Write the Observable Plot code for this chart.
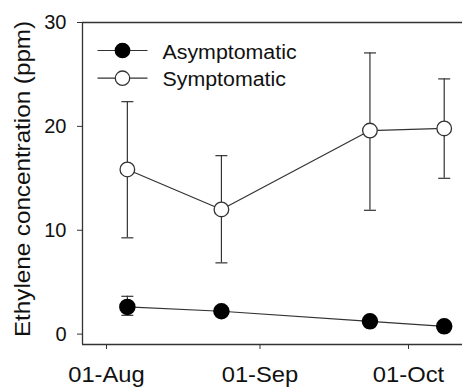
<!DOCTYPE html>
<html>
<head>
<meta charset="utf-8">
<script src="https://cdn.jsdelivr.net/npm/d3@7"></script>
<script src="https://cdn.jsdelivr.net/npm/@observablehq/plot@0.6"></script>
<style>
  html, body { margin: 0; padding: 0; background: #fff; }
</style>
</head>
<body>
<div id="chart"></div>
<script>
// ---- data ----
const dates = ["2010-08-04", "2010-08-23", "2010-09-22", "2010-10-07"];
const symptomatic = [15.85, 12.0, 19.6, 19.8];
const symptomaticLow = [9.27, 6.86, 11.92, 15.0];
const symptomaticHigh = [22.38, 17.18, 27.07, 24.57];
const asymptomatic = [2.62, 2.2, 1.23, 0.75];
const asymptomaticLow = [1.81, 2.0, 1.1, 0.62];
const asymptomaticHigh = [3.64, 2.4, 1.36, 0.88];
const seriesNames = ["Asymptomatic", "Symptomatic"];
const yTicks = [0, 10, 20, 30];
const xTicks = ["2010-08-01", "2010-09-01", "2010-10-01"];
const yTitle = "Ethylene concentration (ppm)";
const xDomain = ["2010-07-25T22:34Z", "2010-10-10T16:40Z"];
const yDomain = [-1, 30];

const toRows = (vals, lo, hi, name) =>
  dates.map((d, i) => ({date: new Date(d), value: vals[i], low: lo[i], high: hi[i], series: name}));
const asym = toRows(asymptomatic, asymptomaticLow, asymptomaticHigh, seriesNames[0]);
const sym = toRows(symptomatic, symptomaticLow, symptomaticHigh, seriesNames[1]);

const ink = "#333";
const hline = w => ({draw(ctx) { ctx.moveTo(-w / 2, 0); ctx.lineTo(w / 2, 0); }});
const fmtX = d3.utcFormat("%d-%b");

const errorMarks = rows => [
  Plot.ruleX(rows, {x: "date", y1: "low", y2: "high", stroke: ink, strokeWidth: 1.2}),
  Plot.dot(rows, {x: "date", y: "high", symbol: hline(12), stroke: ink, fill: "none", strokeWidth: 1.2}),
  Plot.dot(rows, {x: "date", y: "low", symbol: hline(12), stroke: ink, fill: "none", strokeWidth: 1.2})
];

const legendStyles = [
  {fill: "#000", stroke: "#000"},
  {fill: "#fff", stroke: ink}
];
const legendMarks = seriesNames.flatMap((name, i) => [
  Plot.dot([name], {frameAnchor: "top-left", dx: 40, dy: 28 + i * 27.7, symbol: hline(50), stroke: ink, fill: "none", strokeWidth: 1.2}),
  Plot.dot([name], {frameAnchor: "top-left", dx: 40, dy: 28 + i * 27.7, r: 7.2, fill: legendStyles[i].fill, stroke: legendStyles[i].stroke, strokeWidth: 1.3}),
  Plot.text([name], {frameAnchor: "top-left", dx: 80, dy: 30 + i * 27.7, text: d => d, textAnchor: "start", lineAnchor: "middle", fill: "#111", fontSize: 19.6})
]);

const chart = Plot.plot({
  width: 462,
  height: 388,
  marginLeft: 82,
  marginRight: 0,
  marginTop: 22,
  marginBottom: 44,
  style: {fontFamily: "'Liberation Sans', Arial, sans-serif", fontSize: "20px", color: "#111", background: "#fff"},
  x: {type: "utc", domain: xDomain.map(d => new Date(d))},
  y: {domain: yDomain},
  marks: [
    Plot.axisY({ticks: yTicks, tickSize: 5, tickPadding: 11, label: null, fontSize: 20, stroke: ink}),
    Plot.axisX({ticks: xTicks.map(d => new Date(d)), tickFormat: fmtX, tickSize: 5, tickPadding: 17, label: null, fontSize: 22, dx: -6, stroke: ink}),
    Plot.ruleY([yDomain[1]], {stroke: ink, strokeWidth: 1.3}),
    Plot.ruleY([yDomain[0]], {stroke: ink, strokeWidth: 1.3}),
    Plot.ruleX([new Date(xDomain[0])], {stroke: ink, strokeWidth: 1.3}),
    Plot.text([yTitle], {frameAnchor: "left", rotate: -90, dx: -60, dy: -4.5, text: d => d, textAnchor: "middle", lineAnchor: "middle", fill: "#111", fontSize: 22}),
    Plot.line(asym, {x: "date", y: "value", stroke: ink, strokeWidth: 1.2}),
    Plot.line(sym, {x: "date", y: "value", stroke: ink, strokeWidth: 1.2}),
    ...errorMarks(asym),
    ...errorMarks(sym),
    Plot.dot(asym, {x: "date", y: "value", r: 7.5, fill: "#000", stroke: "#000"}),
    Plot.dot(sym, {x: "date", y: "value", r: 7.3, fill: "#fff", stroke: ink, strokeWidth: 1.3}),
    ...legendMarks
  ]
});
document.getElementById("chart").append(chart);

// the reference font is a little wider than Liberation Sans: stretch glyphs along the text direction
const xLabels = new Set(xTicks.map(d => fmtX(new Date(d))));
d3.select(chart).selectAll("text").each(function () {
  const t = this.textContent;
  let k = 1;
  if (t === yTitle) k = 1.1;
  else if (seriesNames.includes(t)) k = 1.09;
  else if (xLabels.has(t)) k = 1.08;
  if (k !== 1) {
    const len = this.getComputedTextLength();
    this.setAttribute("textLength", (len * k).toFixed(1));
    this.setAttribute("lengthAdjust", "spacingAndGlyphs");
  }
});
</script>
</body>
</html>
